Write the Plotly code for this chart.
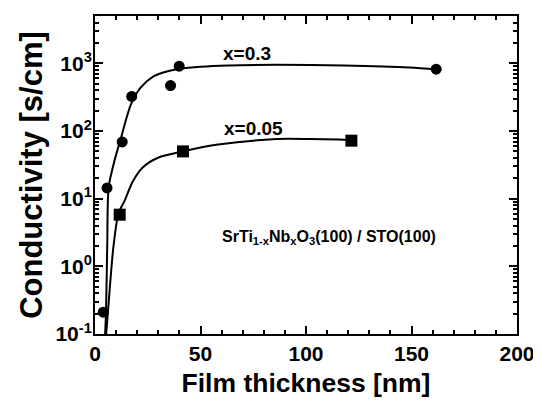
import plotly.graph_objects as go

# Measured data
thick_03 = [3.9, 5.7, 12.9, 17.4, 35.8, 39.9, 161.7]
cond_03 = [0.21, 14.4, 69, 325, 470, 910, 820]
thick_005 = [11.7, 41.7, 121.5]
cond_005 = [5.8, 50, 72]

# Fit curves
fit_x_03 = [4.8, 5.2, 5.8, 6.5, 9.2, 12.3, 17.0, 21.6, 27.9, 34.1, 40.3, 50, 63, 86, 118, 149, 162]
fit_y_03 = [0.1, 0.2, 2.0, 15, 36, 79, 245, 437, 646, 759, 832, 890, 930, 950, 930, 870, 810]
fit_x_005 = [5.3, 7.3, 8.7, 11.1, 14.0, 17.9, 22.6, 30.4, 41.6, 58.4, 86, 102, 119, 121.5]
fit_y_005 = [0.1, 0.62, 1.9, 6.0, 9.3, 18, 29, 41, 50, 63, 76, 76, 74, 72]

y_tickvals = [0.1, 1, 10, 100, 1000]
y_ticktext = ["10<sup>-1</sup>", "10<sup>0</sup>", "10<sup>1</sup>", "10<sup>2</sup>", "10<sup>3</sup>"]
x_tickvals = [0, 50, 100, 150, 200]

FONT = "Liberation Sans, Arial, sans-serif"

fig = go.Figure()
fig.add_trace(go.Scatter(x=fit_x_03, y=fit_y_03, mode="lines",
                         line=dict(color="black", width=2, shape="spline", smoothing=0.8),
                         showlegend=False, hoverinfo="skip"))
fig.add_trace(go.Scatter(x=fit_x_005, y=fit_y_005, mode="lines",
                         line=dict(color="black", width=2, shape="spline", smoothing=0.8),
                         showlegend=False, hoverinfo="skip"))
fig.add_trace(go.Scatter(x=thick_03, y=cond_03, mode="markers",
                         marker=dict(symbol="circle", size=11, color="black"),
                         showlegend=False))
fig.add_trace(go.Scatter(x=thick_005, y=cond_005, mode="markers",
                         marker=dict(symbol="square", size=12, color="black"),
                         showlegend=False))

fig.add_annotation(x=72, y=3.147, xref="x", yref="y", text="<b>x=0.3</b>", showarrow=False,
                   xanchor="center", yanchor="middle", font=dict(size=19, family=FONT, color="black"))
fig.add_annotation(x=75, y=2.044, xref="x", yref="y", text="<b>x=0.05</b>", showarrow=False,
                   xanchor="center", yanchor="middle", font=dict(size=19, family=FONT, color="black"))
fig.add_annotation(x=110.7, y=0.426, xref="x", yref="y",
                   text="<b>SrTi<sub>1-x</sub>Nb<sub>x</sub>O<sub>3</sub>(100) / STO(100)</b>",
                   showarrow=False, xanchor="center", yanchor="middle",
                   font=dict(size=16, family=FONT, color="black"))

fig.update_xaxes(range=[0, 200], tickvals=x_tickvals, ticks="inside", ticklen=8, tickwidth=1.5,
                 tickcolor="black", showline=True, linecolor="black", linewidth=2, mirror="ticks",
                 showgrid=False, zeroline=False,
                 minor=dict(dtick=10, ticks="inside", ticklen=4, tickwidth=1.5, tickcolor="black", showgrid=False),
                 tickfont=dict(size=21, family=FONT, color="black", weight="bold"),
                 title=dict(text="<b>Film thickness [nm]</b>", font=dict(size=26.5, family=FONT, color="black"),
                            standoff=9))
fig.update_yaxes(type="log", range=[-1, 3.7], tickvals=y_tickvals, ticktext=y_ticktext,
                 ticks="inside", ticklen=8, tickwidth=1.5, tickcolor="black",
                 showline=True, linecolor="black", linewidth=2, mirror="ticks",
                 showgrid=False, zeroline=False, ticklabelstandoff=-3,
                 minor=dict(dtick="D1", ticks="inside", ticklen=4, tickwidth=1.5, tickcolor="black", showgrid=False),
                 tickfont=dict(size=21, family=FONT, color="black", weight="bold"),
                 title=dict(text="<b>Conductivity [s/cm]</b>", font=dict(size=31, family=FONT, color="black"),
                            standoff=4))

# page body has an 8px margin; figure sized so the whole page is 541x403
fig.update_layout(width=533, height=395, margin=dict(l=87, r=18, t=6, b=69),
                  plot_bgcolor="white", paper_bgcolor="white",
                  font=dict(family=FONT, color="black"))
fig.write_html("out.html")
